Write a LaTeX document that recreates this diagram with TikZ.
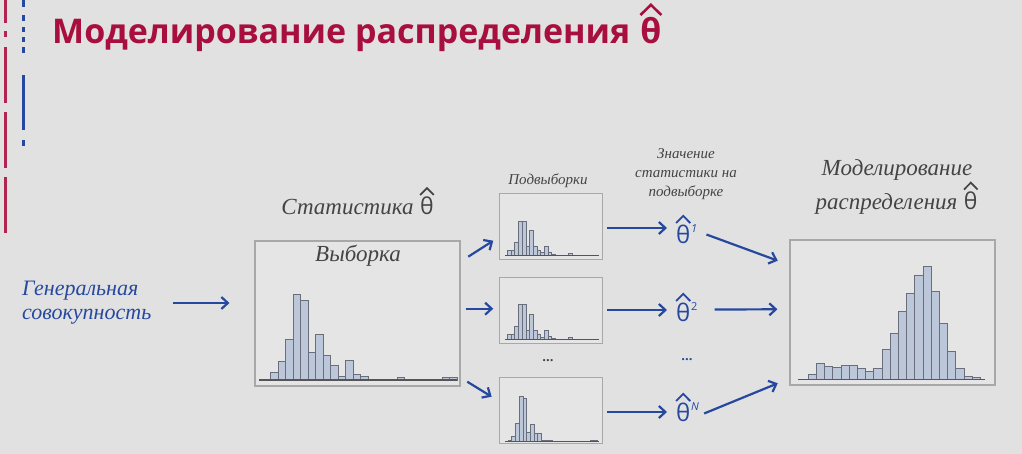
\documentclass[tikz,border=0pt]{standalone}
\usepackage{fontspec}
\setmainfont{Open Sans}
\newfontfamily\hand{Liberation Serif}
\newfontfamily\thfont{Open Sans}
\usetikzlibrary{arrows.meta}

\definecolor{bg}{RGB}{225,225,225}
\definecolor{crimson}{RGB}{168,14,62}
\definecolor{navy}{RGB}{38,72,158}
\definecolor{ink}{RGB}{68,68,68}
\definecolor{frame}{RGB}{168,168,168}
\definecolor{boxfill}{RGB}{229,229,229}
\definecolor{barfill}{RGB}{188,199,217}
\definecolor{baredge}{RGB}{105,110,122}
\definecolor{axis}{RGB}{85,85,85}

% theta with a wide hat, drawn in colour #1
\newcommand\hatth[1]{\tikz[baseline=(T.base)]{%
  \node[inner sep=0pt,outer sep=0pt,text=#1,font=\thfont\upshape](T){θ};%
  \draw[#1,line width=0.075em,line join=miter]
    ([yshift=0.08em]T.north west) -- ([yshift=0.38em]T.north) -- ([yshift=0.08em]T.north east);}}

\tikzset{
  frame/.style={draw=frame,fill=boxfill,line width=1.1pt,inner sep=0pt},
  bigbox/.style={frame,minimum width=205pt,minimum height=145pt},
  subbox/.style={frame,minimum width=103pt,minimum height=66pt},
  bar/.style={fill=barfill,draw=baredge,line width=0.5pt},
  axisline/.style={draw=axis,line width=1.6pt},
  arr/.style={draw=navy,line width=2.2pt,-{Straight Barb[length=6.5pt,width=12pt]}},
  handlabel/.style={text=ink,font=\hand\itshape,align=center,inner sep=0pt},
  thlabel/.style={text=navy,font=\fontsize{24}{28}\selectfont,inner sep=0pt,anchor=base west},
}

\begin{document}
\begin{tikzpicture}[x=1pt,y=-1pt]
  \fill[bg] (0,0) rectangle (1022,454);
  \useasboundingbox (0,0) rectangle (1022,454);

  % side rules
  \foreach \a/\b in {0/23,31/37,47/103,112/168,177/233}
    \draw[crimson!90,line width=3pt] (5,\a) -- (5,\b);
  \foreach \a/\b in {0/7,15/21,27/32,37/42,47/53,75/130,140/146}
    \draw[navy,line width=3pt] (23,\a) -- (23,\b);

  % title
  \node[anchor=base west,inner sep=0pt,text=crimson,font=\fontsize{34}{38}\selectfont\bfseries]
    (title) at (52,44) {Моделирование распределения \hatth{crimson}};

  % population
  \node[anchor=west,align=left,inner sep=0pt,text=navy,font=\hand\itshape\fontsize{22}{24}\selectfont]
    (pop) at (22,303) {Генеральная\\совокупность};

  % sample
  \node[bigbox] (sample) at (357.5,313.5) {};
  \node[handlabel,font=\hand\itshape\fontsize{23}{24}\selectfont] (samplelbl) at (358,256) {Выборка};
  \node[handlabel,font=\hand\itshape\fontsize{23}{24}\selectfont] (statlbl) at (358,201) {Статистика \hatth{ink}};
  \foreach \x/\h in {270.5/7.3,278/19,285.5/40.7,293/85.7,300.5/79.3,308/27.3,315.5/45.7,
                     323/24.3,330.5/15,338/3.3,345.5/19.3,353/5.3,360.5/3.3,397/3,442/2.3,449.5/2.3}
    \draw[bar] (\x,380) rectangle ++(7.5,-\h);
  \draw[axisline] (259,380) -- (457,380);

  % subsamples
  \node[subbox] (sub1) at (551,226.5) {};
  \node[subbox] (sub2) at (551,310.5) {};
  \node[subbox] (sub3) at (551,410.5) {};
  \node[handlabel,font=\hand\itshape\fontsize{15}{17}\selectfont] (sublbl) at (548,181) {Подвыборки};
  \node[text=ink,inner sep=0pt,font=\bfseries\fontsize{13}{13}\selectfont] (subdots) at (548,361) {...};

  \begin{scope}[shift={(0,255.3)}]
    \foreach \x/\h in {507.3/5.3,511/5.3,514.7/13,518.4/34.3,522.1/34.3,525.8/9.3,529.5/25.3,
                       533.2/9.3,536.9/5.3,540.6/3,544.3/9.3,548/3,551.7/1.5,568.5/1.6}
      \draw[bar] (\x,0) rectangle ++(3.7,-\h);
    \draw[axisline,line width=1pt] (505,0) -- (599,0);
  \end{scope}
  \begin{scope}[shift={(0,339.3)}]
    \foreach \x/\h in {507.3/5.3,511/5.3,514.7/13.5,518.4/35.3,522.1/35.3,525.8/9.3,529.5/25.3,
                       533.2/9.3,536.9/5.3,540.6/2.5,544.3/9.3,548/3,551.7/1.5,568.5/1.6}
      \draw[bar] (\x,0) rectangle ++(3.7,-\h);
    \draw[axisline,line width=1pt] (505,0) -- (599,0);
  \end{scope}
  \begin{scope}[shift={(0,441.3)}]
    \foreach \x/\h in {508/1.5,511.7/5.3,515.4/18,519.1/44.6,522.8/42.6,526.5/9,530.2/17,
                       533.9/8,537.6/8,541.3/1,545/1,548.7/1,590/1.5,593.7/1.5}
      \draw[bar] (\x,0) rectangle ++(3.7,-\h);
    \draw[axisline,line width=1pt] (505,0) -- (599,0);
  \end{scope}

  % statistic values
  \node[handlabel,font=\hand\itshape\fontsize{15}{19}\selectfont] (vallbl) at (686,174)
    {Значение\\статистики на\\подвыборке};
  \node[thlabel] (t1) at (675,243.5) {\hatth{navy}\raisebox{0.45em}{\fontsize{11}{11}\selectfont\itshape 1}};
  \node[thlabel] (t2) at (675,321.5) {\hatth{navy}\raisebox{0.45em}{\fontsize{11}{11}\selectfont 2}};
  \node[thlabel] (t3) at (675,421.5) {\hatth{navy}\raisebox{0.45em}{\fontsize{11}{11}\selectfont\itshape N}};
  \node[text=navy,inner sep=0pt,font=\bfseries\fontsize{13}{13}\selectfont] (thdots) at (687,360) {...};

  % modelled distribution
  \node[bigbox] (final) at (892.5,312.5) {};
  \node[handlabel,font=\hand\itshape\fontsize{23}{24}\selectfont] (finallbl) at (897,187)
    {Моделирование\\распределения \hatth{ink}};
  \foreach \h [count=\i from 0] in {5.3,16,12.6,12,14.3,14.3,11,7.6,11,30.3,46,68.3,86,104.3,113.3,87.6,56,27.6,11,3.3,1.6}
    \draw[bar] (808+8.2*\i,379.3) rectangle ++(8.2,-\h);
  \draw[axisline] (798,379.3) -- (985,379.3);

  % connectors
  \draw[arr] ([xshift=21pt]pop.east) -- ([xshift=-25pt]pop.east -| sample.west);
  \draw[arr] ([shift={(7.7,-56.8)}]sample.east) -- ([shift={(-5.7,14.2)}]sub1.west);
  \draw[arr] ([shift={(5,-4.8)}]sample.east) -- ([shift={(-5.7,-1.8)}]sub2.west);
  \draw[arr] ([shift={(6.7,68.2)}]sample.east) -- ([shift={(-7.3,-13.8)}]sub3.west);

  \draw[arr] ([shift={(4,1.5)}]sub1.east) -- ([shift={(-8,1.5)}]sub1.east -| t1.west);
  \draw[arr] ([shift={(4,-0.5)}]sub2.east) -- ([shift={(-8,-0.5)}]sub2.east -| t2.west);
  \draw[arr] ([shift={(4,1.5)}]sub3.east) -- ([shift={(-8,1.5)}]sub3.east -| t3.west);

  \draw[arr] ([shift={(9,-9)}]t1.base east) -- ([shift={(-11.7,-51.8)}]final.west);
  \draw[arr] ([shift={(17,-12)}]t2.base east) -- ([shift={(-12,-3.2)}]final.west);
  \draw[arr] ([shift={(5,-8)}]t3.base east) -- ([shift={(-11.7,70.8)}]final.west);
\end{tikzpicture}
\end{document}
